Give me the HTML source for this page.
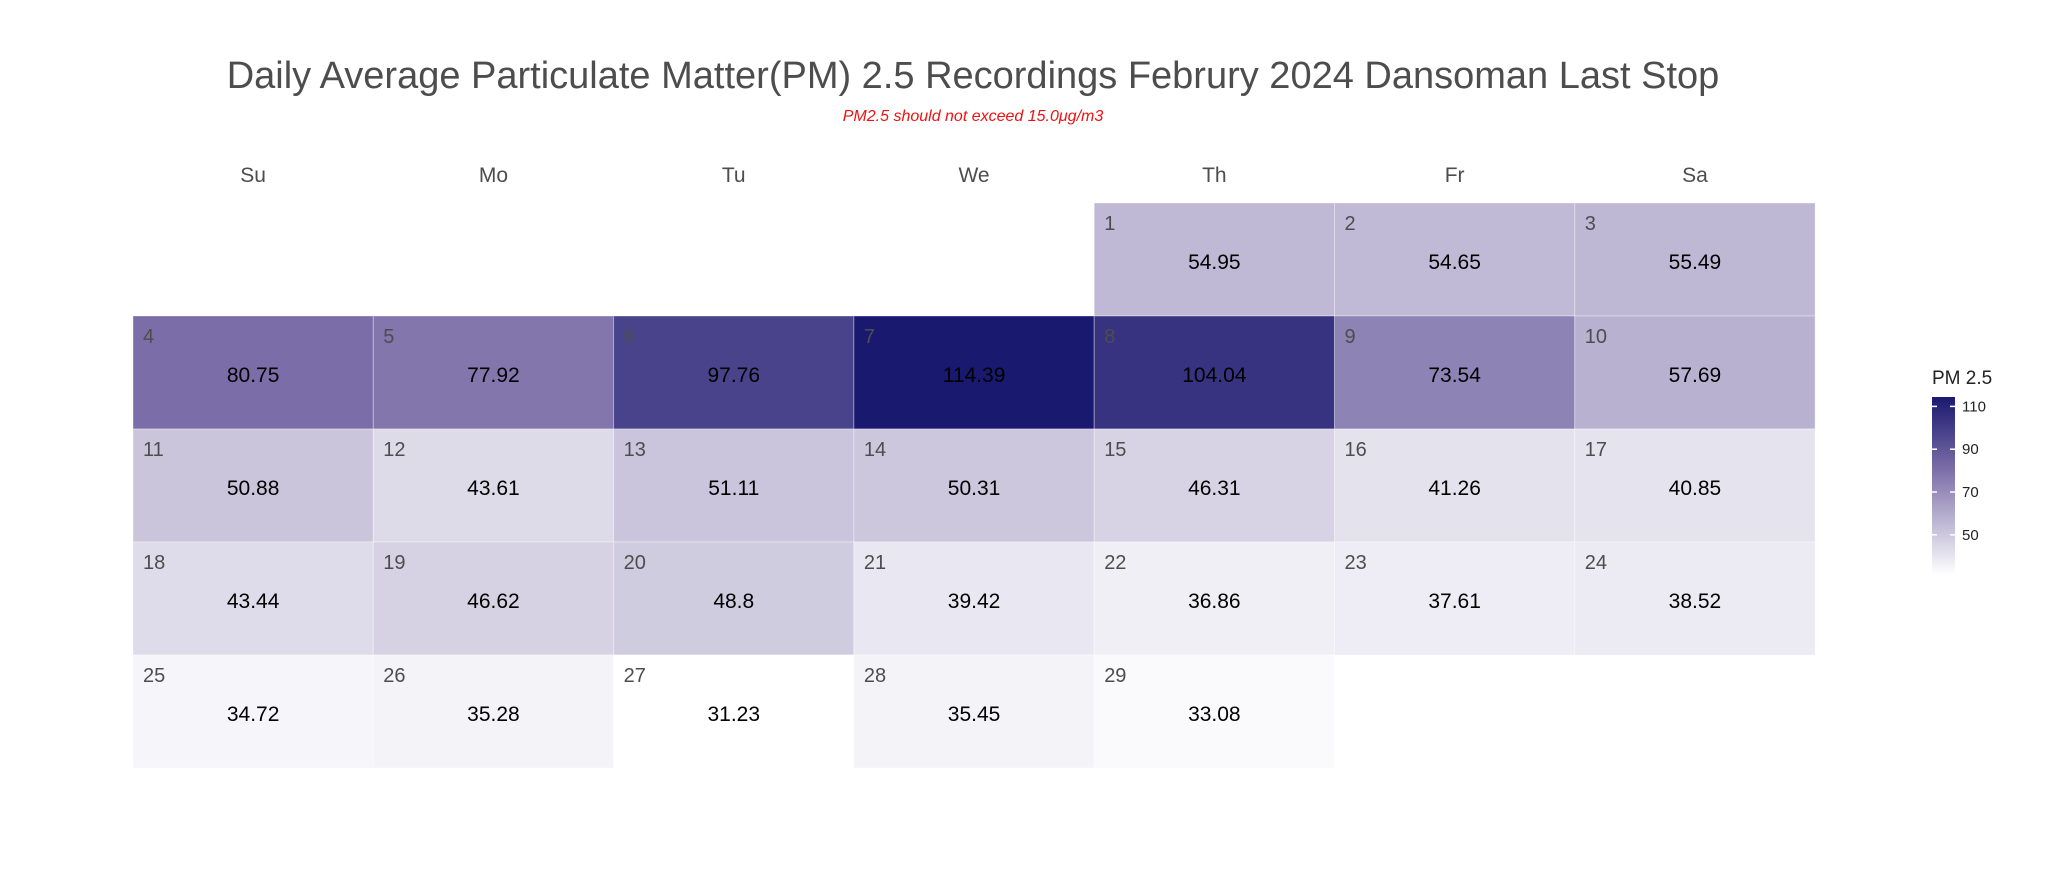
<!DOCTYPE html>
<html><head><meta charset="utf-8"><style>
body{margin:0;background:#fff;}
svg{display:block;font-family:"Liberation Sans",sans-serif;}
</style></head><body>
<svg id="chart" width="2050" height="872" viewBox="0 0 2050 872">
<defs>
<linearGradient id="lg" x1="0" y1="1" x2="0" y2="0">
<stop offset="0" stop-color="#ffffff"/><stop offset="0.595" stop-color="#7b6ea8"/><stop offset="1" stop-color="#191970"/>
</linearGradient>
</defs>
<text x="973" y="88" text-anchor="middle" font-size="38" fill="#4d4d4d">Daily Average Particulate Matter(PM) 2.5 Recordings Februry 2024 Dansoman Last Stop</text>
<text x="973" y="121" text-anchor="middle" font-size="16" font-style="italic" fill="#ee1111">PM2.5 should not exceed 15.0μg/m3</text>
<g id="cells"></g>
<g>
<text x="1932" y="384" font-size="19" fill="#222">PM 2.5</text>
<rect x="1932" y="397" width="23" height="178" fill="url(#lg)"/>
<g id="legticks"></g>
</g>
</svg>
<script>
const days = ["Su","Mo","Tu","We","Th","Fr","Sa"];
const dates = [1,2,3,4,5,6,7,8,9,10,11,12,13,14,15,16,17,18,19,20,21,22,23,24,25,26,27,28,29];
const values = [54.95,54.65,55.49,80.75,77.92,97.76,114.39,104.04,73.54,57.69,50.88,43.61,51.11,50.31,46.31,41.26,40.85,43.44,46.62,48.8,39.42,36.86,37.61,38.52,34.72,35.28,31.23,35.45,33.08];
const legendTicks = [50,70,90,110];
const firstWeekday = 4;
const svg = document.getElementById('chart');
const NS = "http://www.w3.org/2000/svg";
const x0 = 133, cw = 240.3, y0 = 203, rh = 113;
const vmin = Math.min(...values), vmax = Math.max(...values);
function lerp(a,b,t){return a.map((v,i)=>Math.round(v+(b[i]-v)*t));}
function color(v){
  const t=(v-vmin)/(vmax-vmin);
  const W=[255,255,255],M=[123,110,168],D=[25,25,112];
  const c = t<0.595 ? lerp(W,M,t/0.595) : lerp(M,D,(t-0.595)/0.405);
  return `rgb(${c[0]},${c[1]},${c[2]})`;
}
function mk(tag,attrs){const e=document.createElementNS(NS,tag);for(const k in attrs)e.setAttribute(k,attrs[k]);return e;}
const g = document.getElementById('cells');
days.forEach((d,i)=>{
  const t=mk('text',{x:x0+cw*(i+0.5),y:182,'text-anchor':'middle','font-size':21,fill:'#4d4d4d'});
  
  
  t.textContent=d; g.appendChild(t);
});
dates.forEach((d,i)=>{
  const idx=firstWeekday+d-1, col=idx%7, row=Math.floor(idx/7);
  const x=x0+col*cw, y=y0+row*rh;
  const r=mk('rect',{x:x,y:y,width:cw,height:rh,fill:color(values[i]),stroke:'rgba(255,255,255,0.35)','stroke-width':1});
  
  
  g.appendChild(r);
  const n=mk('text',{x:x+10,y:y+27,'font-size':20,fill:'#4d4d4d'});
  
  
  n.textContent=d; g.appendChild(n);
  const v=mk('text',{x:x+cw/2,y:y+66,'text-anchor':'middle','font-size':21,fill:'#000'});
  
  
  v.textContent=values[i]; g.appendChild(v);
});
const lt=document.getElementById('legticks');
const ly0=575, ly1=397;
function ly(v){return ly0-(v-vmin)/(vmax-vmin)*(ly0-ly1);}
legendTicks.forEach(v=>{
  const y=ly(v);
  const a=mk('line',{x1:1932,x2:1937,y1:y,y2:y,stroke:'#fff','stroke-width':1.5});
  
  
  lt.appendChild(a);
  const b=mk('line',{x1:1950,x2:1955,y1:y,y2:y,stroke:'#fff','stroke-width':1.5});
  
  
  lt.appendChild(b);
  const t=mk('text',{x:1962,y:y+5,'font-size':15,fill:'#222'});
  
  
  t.textContent=v; lt.appendChild(t);
});
</script>
</body></html>
